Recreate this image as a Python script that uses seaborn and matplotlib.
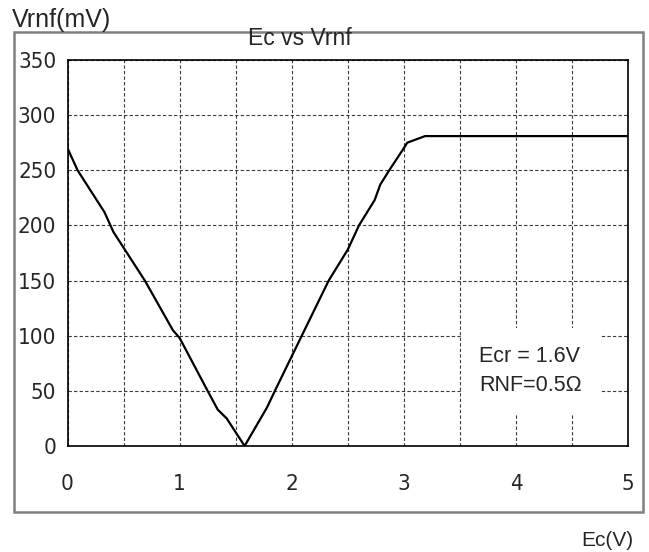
import matplotlib
matplotlib.use("Agg")
import matplotlib.pyplot as plt
from matplotlib.patches import Rectangle
import numpy as np
import pandas as pd
import seaborn as sns

# valori
ec = [0.0, 0.09, 0.33, 0.41, 0.69, 0.94, 1.0, 1.25, 1.34, 1.42, 1.58,
      1.78, 1.85, 2.09, 2.33, 2.5, 2.6, 2.74, 2.79, 2.87, 3.0, 3.03, 3.19, 5.0]
vrnf = [270, 250, 212, 194, 150, 105, 98, 50, 33, 25, 0,
        35, 50, 100, 150, 178, 200, 223, 237, 250, 270, 275, 281, 281]
x_ticks = [0, 1, 2, 3, 4, 5]
y_ticks = [0, 50, 100, 150, 200, 250, 300, 350]

df = pd.DataFrame({"Ec": ec, "Vrnf": vrnf})

sns.set_style("white")
plt.rcParams["font.family"] = ["Liberation Sans", "DejaVu Sans"]

W, H = 649, 552
fig = plt.figure(figsize=(W / 100, H / 100), dpi=100)
ax = fig.add_axes([67.5 / W, 1 - 446 / H, (628 - 67.5) / W, (446 - 60) / H])

sns.lineplot(data=df, x="Ec", y="Vrnf", ax=ax, color="black", linewidth=1.6, zorder=3)

ax.set_xlim(0, 5)
ax.set_ylim(0, 350)
ax.set_xticks(x_ticks)
ax.set_xticks(np.arange(0.5, 5, 1.0), minor=True)
ax.set_yticks(y_ticks)
tick_font = dict(fontfamily="DejaVu Sans", fontstretch="condensed", fontweight="light", fontsize=16)
ax.set_xticklabels([str(t) for t in x_ticks], **tick_font)
ax.set_yticklabels([str(t) for t in y_ticks], **tick_font)
ax.tick_params(axis="both", which="both", length=0)
ax.tick_params(axis="x", pad=20)
ax.tick_params(axis="y", pad=8)
ax.grid(True, which="both", axis="both", color="#3a3a3a", linestyle=(0, (3, 2)), linewidth=0.8)
ax.set_axisbelow(True)
for s in ax.spines.values():
    s.set_color("black")
    s.set_linewidth(1.2)
ax.set_xlabel("")
ax.set_ylabel("")

# cornice esterna grigia
fig.patches.append(Rectangle((14 / W, 1 - 512 / H), (643 - 14) / W, (512 - 32) / H,
                             transform=fig.transFigure, fill=False,
                             edgecolor="#808080", linewidth=1.8))

fig.text(12 / W, 1 - 8 / H, "Vrnf(mV)", fontsize=18, ha="left", va="top")
fig.text(633 / W, 1 - 550 / H, "Ec(V)", fontsize=15, ha="right", va="bottom")
fig.text(300 / W, 1 - 50 / H, "Ec vs Vrnf", fontsize=16.5, ha="center", va="bottom")

ax.text(3.67, 68, "Ecr = 1.6V\nRNF=0.5\u03a9", fontsize=15.5, ha="left", va="center",
        linespacing=1.45, zorder=4,
        bbox=dict(facecolor="white", edgecolor="none", pad=13))

fig.savefig("out.png", dpi=100)
